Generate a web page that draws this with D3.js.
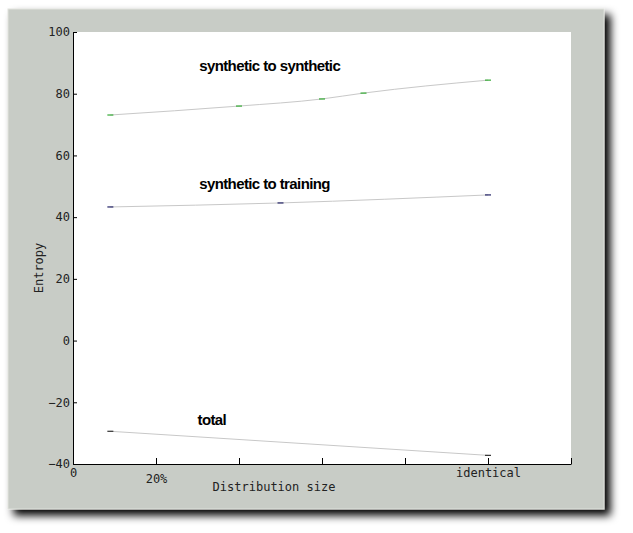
<!DOCTYPE html>
<html><head><meta charset="utf-8">
<script src="https://cdn.jsdelivr.net/npm/d3@7"></script>
<style>
body{margin:0;background:#fff;}
text{font-family:"DejaVu Sans Mono",monospace;}
.lbl{font-family:"Liberation Sans Narrow","Liberation Sans",sans-serif;font-weight:bold;font-size:15px;letter-spacing:-0.6px;}
</style></head><body>
<svg id="c" width="633" height="533"></svg>
<script>
// series as [x, entropy]
var synthToSynth = [[0.45, 73.1], [2, 76], [3, 78.3], [3.5, 80.2], [5, 84.4]];
var synthToTrain = [[0.45, 43.3], [2.5, 44.6], [5, 47.2]];
var total = [[0.45, -29.4], [5, -37.2]];
var xTicks = [0, 1, 2, 3, 4, 5, 6];
var xTickLabels = {0: '0', 1: '20%', 5: 'identical'};
var yTicks = [-40, -20, 0, 20, 40, 60, 80, 100];
var seriesLabels = [
  {text: 'synthetic to synthetic', x: 1.52, y: 87.4},
  {text: 'synthetic to training', x: 1.52, y: 49.1},
  {text: 'total', x: 1.5, y: -27.4}
];

var svg = d3.select('#c');
var defs = svg.append('defs');
var f = defs.append('filter').attr('id', 'sh').attr('x', '-5%').attr('y', '-5%').attr('width', '115%').attr('height', '115%');
f.append('feGaussianBlur').attr('in', 'SourceAlpha').attr('stdDeviation', 4);
f.append('feOffset').attr('dx', 6).attr('dy', 6).attr('result', 'b');
var m = f.append('feMerge');
m.append('feMergeNode').attr('in', 'b');
m.append('feMergeNode').attr('in', 'SourceGraphic');

svg.append('rect').attr('x', 8).attr('y', 9).attr('width', 596).attr('height', 500)
  .attr('fill', '#c8ccc6').attr('stroke', '#dfe2dc').attr('filter', 'url(#sh)');

var x = d3.scaleLinear().domain([0, 6]).range([73, 571]);
var y = d3.scaleLinear().domain([-40, 100]).range([464, 32]);

svg.append('rect').attr('x', 73).attr('y', 32).attr('width', 498).attr('height', 432).attr('fill', '#fff');

var gx = svg.append('g').attr('transform', 'translate(0,464)')
  .call(d3.axisBottom(x).tickValues(xTicks).tickSizeInner(-6).tickSizeOuter(0)
    .tickFormat(function(d) { return xTickLabels[d] || ''; }));
gx.selectAll('text').attr('y', 4).attr('dy', '0.71em').style('font-size', '12px').attr('fill', '#222');
gx.selectAll('line,path').attr('stroke', '#000');
gx.selectAll('.tick').filter(function(d){ return d === 1; }).select('text').attr('y', 10);

var gy = svg.append('g').attr('transform', 'translate(73,0)')
  .call(d3.axisLeft(y).tickValues(yTicks).tickSizeInner(-4).tickSizeOuter(0).tickPadding(3));
gy.selectAll('text').style('font-size', '12px').attr('fill', '#222');
gy.selectAll('line,path').attr('stroke', '#000');

svg.append('text').attr('x', 274).attr('y', 491).attr('text-anchor', 'middle')
  .style('font-size', '12px').attr('fill', '#222').text('Distribution size');
svg.append('text').attr('transform', 'translate(43,268) rotate(-90)').attr('text-anchor', 'middle')
  .style('font-size', '12px').attr('fill', '#222').text('Entropy');

var line = d3.line().x(function(d){ return x(d[0]); }).y(function(d){ return y(d[1]); }).curve(d3.curveMonotoneX);
var series = [
  {data: synthToSynth, mark: '#3a3'},
  {data: synthToTrain, mark: '#226'},
  {data: total, mark: '#333'}
];
series.forEach(function(s) {
  svg.append('path').datum(s.data).attr('d', line).attr('fill', 'none')
    .attr('stroke', '#c8c8c8').attr('stroke-width', 1);
  svg.selectAll(null).data(s.data).enter().append('line')
    .attr('x1', function(d){ return x(d[0]) - 3; }).attr('x2', function(d){ return x(d[0]) + 3; })
    .attr('y1', function(d){ return y(d[1]); }).attr('y2', function(d){ return y(d[1]); })
    .attr('stroke', s.mark).attr('stroke-width', 1.2);
});

svg.selectAll('.lbl').data(seriesLabels).enter().append('text').attr('class', 'lbl')
  .attr('x', function(d){ return x(d.x); }).attr('y', function(d){ return y(d.y); })
  .text(function(d){ return d.text; });
</script></body></html>
